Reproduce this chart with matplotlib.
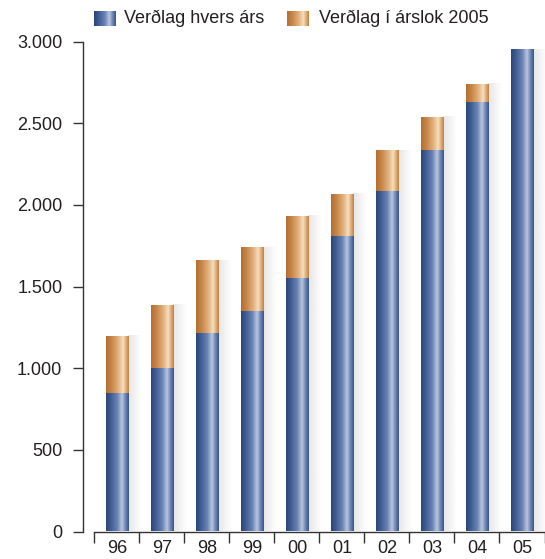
import numpy as np
import matplotlib.pyplot as plt
from matplotlib.colors import LinearSegmentedColormap

plt.rcParams['font.family'] = ['Liberation Sans', 'DejaVu Sans']

# gögn lesin af myndinni
years = ['96', '97', '98', '99', '00', '01', '02', '03', '04', '05']
nominal = [851, 1004, 1218, 1347, 1555, 1812, 2082, 2333, 2627, 2945]      # Verðlag hvers árs
real_2005 = [1194, 1384, 1659, 1733, 1929, 2069, 2327, 2535, 2737, 2945]   # Verðlag í árslok 2005
label_nom = 'Verðlag hvers árs'
label_real = 'Verðlag í árslok 2005'

blue_cmap = LinearSegmentedColormap.from_list('blue', [
    (0.0, '#2a4677'), (0.2, '#3f5c92'), (0.5, '#6a84b4'),
    (0.7, '#b9c6df'), (0.85, '#6d86b6'), (1.0, '#37558a')])
orange_cmap = LinearSegmentedColormap.from_list('orange', [
    (0.0, '#b56d32'), (0.25, '#c8874a'), (0.55, '#e3b37f'),
    (0.75, '#f4dfc1'), (0.9, '#dba46c'), (1.0, '#c4803f')])
grad = np.linspace(0, 1, 128).reshape(1, -1)

# skuggi hægra megin við súlur
shadow = np.zeros((1, 64, 4))
shadow[..., :3] = 0.6
shadow[..., 3] = np.linspace(0.25, 0.0, 64)

fig = plt.figure(figsize=(5.45, 5.59), dpi=100)
ax = fig.add_axes([82.5 / 545, 27.5 / 559, 462 / 545, 490 / 559])

x = np.arange(len(years))
extra = np.array(real_2005) - np.array(nominal)
bars_nom = ax.bar(x, nominal, width=0.49, color='none', linewidth=0)
bars_real = ax.bar(x, extra, bottom=nominal, width=0.49, color='none', linewidth=0)

for r, top in zip(bars_nom, real_2005):
    x0, w = r.get_x(), r.get_width()
    ax.imshow(shadow, extent=(x0 + w, x0 + w + 0.3, 0, top),
              aspect='auto', zorder=2, interpolation='bilinear')

for bars, cmap in ((bars_nom, blue_cmap), (bars_real, orange_cmap)):
    for r in bars:
        h = r.get_height()
        if h <= 0:
            continue
        x0, y0, w = r.get_x(), r.get_y(), r.get_width()
        ax.imshow(grad, cmap=cmap, extent=(x0, x0 + w, y0, y0 + h),
                  aspect='auto', zorder=3, interpolation='bilinear')

ax.set_xlim(-0.5 - 11.8 / 45, 9.5)
ax.set_ylim(0, 3000)

for s in ['top', 'right']:
    ax.spines[s].set_visible(False)
ax.spines['left'].set_bounds(0, 3000)
ax.spines['bottom'].set_bounds(-0.5, 9.5)
for s in ['left', 'bottom']:
    ax.spines[s].set_color('#333333')
    ax.spines[s].set_linewidth(1.0)

yt = np.arange(0, 3001, 500)
ax.set_yticks(yt)
ax.set_yticklabels([f'{v:,}'.replace(',', '.') for v in yt])
ax.tick_params(axis='y', length=7.5, width=1, pad=7, labelsize=13, colors='#333333', labelcolor='#231f20')

ax.set_xticks(x)
ax.set_xticklabels(years)
ax.set_xticks(np.arange(-0.5, 10, 1), minor=True)
ax.tick_params(axis='x', which='major', length=0, pad=6, labelsize=13, labelcolor='#231f20')
ax.tick_params(axis='x', which='minor', length=8, width=1, color='#333333')

# skýringar efst
def legend_patch(x_px, cmap):
    lax = fig.add_axes([x_px / 545, 1 - 26 / 559, 22 / 545, 15.5 / 559])
    lax.imshow(grad, cmap=cmap, aspect='auto', interpolation='bilinear')
    lax.axis('off')

legend_patch(94, blue_cmap)
legend_patch(287, orange_cmap)
fig.text(124 / 545, 1 - 18.5 / 559, label_nom, fontsize=13, va='center', ha='left', color='#231f20')
fig.text(319 / 545, 1 - 18.5 / 559, label_real, fontsize=13, va='center', ha='left', color='#231f20')

fig.savefig('out.png', dpi=100)
